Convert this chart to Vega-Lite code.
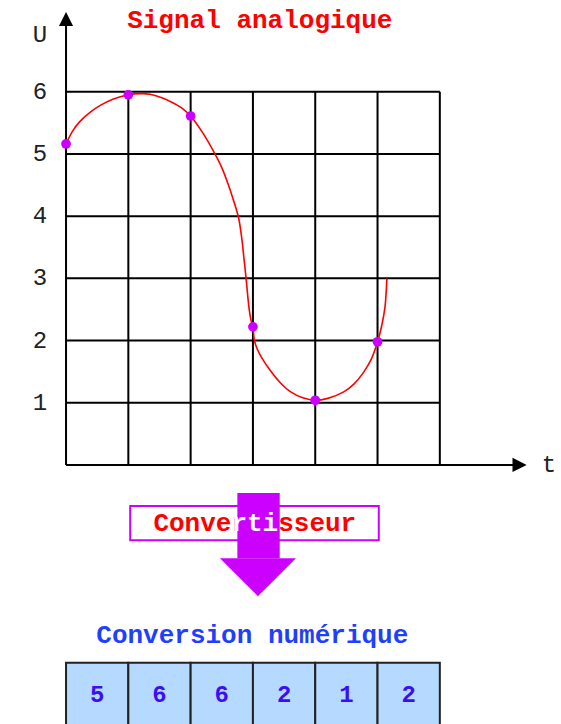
{
  "$schema": "https://vega.github.io/schema/vega-lite/v6.json",
  "width": 561,
  "height": 724,
  "autosize": {"type": "none"},
  "padding": 0,
  "background": "white",
  "config": {"view": {"stroke": null}},
  "datasets": {
    "grid": [
      {"t": 0, "u": 1, "t2": 6, "u2": 1},
      {"t": 0, "u": 2, "t2": 6, "u2": 2},
      {"t": 0, "u": 3, "t2": 6, "u2": 3},
      {"t": 0, "u": 4, "t2": 6, "u2": 4},
      {"t": 0, "u": 5, "t2": 6, "u2": 5},
      {"t": 0, "u": 6, "t2": 6, "u2": 6},
      {"t": 1, "u": 0, "t2": 1, "u2": 6},
      {"t": 2, "u": 0, "t2": 2, "u2": 6},
      {"t": 3, "u": 0, "t2": 3, "u2": 6},
      {"t": 4, "u": 0, "t2": 4, "u2": 6},
      {"t": 5, "u": 0, "t2": 5, "u2": 6},
      {"t": 6, "u": 0, "t2": 6, "u2": 6},
      {"t": 0, "u": 0, "t2": 0, "u2": 7.1},
      {"t": 0, "u": 0, "t2": 7.2, "u2": 0}
    ],
    "arrowUp": [{"t": 0, "u": 7.17}],
    "arrowRight": [{"t": 7.28, "u": 0}],
    "curve": [
      {"i": 0, "t": 0, "u": 5.16},
      {"i": 1, "t": 0.1, "u": 5.36},
      {"i": 2, "t": 0.22, "u": 5.52},
      {"i": 3, "t": 0.4, "u": 5.68},
      {"i": 4, "t": 0.55, "u": 5.78},
      {"i": 5, "t": 0.75, "u": 5.88},
      {"i": 6, "t": 1.0, "u": 5.95},
      {"i": 7, "t": 1.2, "u": 5.97},
      {"i": 8, "t": 1.35, "u": 5.96},
      {"i": 9, "t": 1.55, "u": 5.9},
      {"i": 10, "t": 1.72, "u": 5.82},
      {"i": 11, "t": 1.87, "u": 5.73},
      {"i": 12, "t": 2.0, "u": 5.61},
      {"i": 13, "t": 2.2, "u": 5.33},
      {"i": 14, "t": 2.39, "u": 5.0},
      {"i": 15, "t": 2.5, "u": 4.78},
      {"i": 16, "t": 2.6, "u": 4.52},
      {"i": 17, "t": 2.68, "u": 4.28},
      {"i": 18, "t": 2.77, "u": 3.97},
      {"i": 19, "t": 2.82, "u": 3.65},
      {"i": 20, "t": 2.855, "u": 3.33},
      {"i": 21, "t": 2.89, "u": 3.0},
      {"i": 22, "t": 2.94, "u": 2.5},
      {"i": 23, "t": 2.97, "u": 2.32},
      {"i": 24, "t": 3.0, "u": 2.22},
      {"i": 25, "t": 3.02, "u": 2.02},
      {"i": 26, "t": 3.07, "u": 1.86},
      {"i": 27, "t": 3.15, "u": 1.71},
      {"i": 28, "t": 3.27, "u": 1.53},
      {"i": 29, "t": 3.45, "u": 1.31},
      {"i": 30, "t": 3.6, "u": 1.18},
      {"i": 31, "t": 3.8, "u": 1.08},
      {"i": 32, "t": 4.0, "u": 1.04},
      {"i": 33, "t": 4.2, "u": 1.07},
      {"i": 34, "t": 4.45, "u": 1.17},
      {"i": 35, "t": 4.62, "u": 1.3},
      {"i": 36, "t": 4.77, "u": 1.48},
      {"i": 37, "t": 4.9, "u": 1.7},
      {"i": 38, "t": 5.0, "u": 1.98},
      {"i": 39, "t": 5.07, "u": 2.25},
      {"i": 40, "t": 5.12, "u": 2.54},
      {"i": 41, "t": 5.14, "u": 2.8},
      {"i": 42, "t": 5.15, "u": 3.0}
    ],
    "samples": [
      {"t": 0, "u": 5.16, "digit": "5"},
      {"t": 1, "u": 5.95, "digit": "6"},
      {"t": 2, "u": 5.61, "digit": "6"},
      {"t": 3, "u": 2.22, "digit": "2"},
      {"t": 4, "u": 1.04, "digit": "1"},
      {"t": 5, "u": 1.98, "digit": "2"}
    ],
    "ylabels": [
      {"t": -0.42, "u": 1, "label": "1"},
      {"t": -0.42, "u": 2, "label": "2"},
      {"t": -0.42, "u": 3, "label": "3"},
      {"t": -0.42, "u": 4, "label": "4"},
      {"t": -0.42, "u": 5, "label": "5"},
      {"t": -0.42, "u": 6, "label": "6"},
      {"t": -0.42, "u": 6.92, "label": "U"},
      {"t": 7.75, "u": 0, "label": "t"}
    ],
    "title": [{"t": 3.11, "u": 7.16, "label": "Signal analogique"}],
    "box": [{"t": 1.03, "u": -0.66, "t2": 5.02, "u2": -1.21}],
    "boxText": [{"t": 3.03, "u": -0.93, "label": "Convertisseur"}],
    "knockText": [{"t": 3.03, "u": -0.93, "label": "rti"}],
    "shaft": [{"t": 2.75, "u": -0.45, "t2": 3.43, "u2": -1.5}],
    "head": [
      {"t": 2.47, "u": -1.5, "u2": -1.5},
      {"t": 3.08, "u": -1.5, "u2": -2.11},
      {"t": 3.69, "u": -1.5, "u2": -1.5}
    ],
    "convTitle": [{"t": 2.99, "u": -2.73, "label": "Conversion numérique"}],
    "cells": [
      {"t": 0, "t2": 1, "u": -3.18, "u2": -4.4, "tc": 0.5, "uc": -3.7, "digit": "5"},
      {"t": 1, "t2": 2, "u": -3.18, "u2": -4.4, "tc": 1.5, "uc": -3.7, "digit": "6"},
      {"t": 2, "t2": 3, "u": -3.18, "u2": -4.4, "tc": 2.5, "uc": -3.7, "digit": "6"},
      {"t": 3, "t2": 4, "u": -3.18, "u2": -4.4, "tc": 3.5, "uc": -3.7, "digit": "2"},
      {"t": 4, "t2": 5, "u": -3.18, "u2": -4.4, "tc": 4.5, "uc": -3.7, "digit": "1"},
      {"t": 5, "t2": 6, "u": -3.18, "u2": -4.4, "tc": 5.5, "uc": -3.7, "digit": "2"}
    ]
  },
  "layer": [
    {
      "data": {"name": "grid"},
      "mark": {"type": "rule", "color": "#000000", "strokeWidth": 2},
      "encoding": {
        "x": {"field": "t", "type": "quantitative", "scale": {"domain": [-1.06, 7.945], "nice": false, "zero": false}, "axis": null},
        "y": {"field": "u", "type": "quantitative", "scale": {"domain": [-4.165, 7.475], "nice": false, "zero": false}, "axis": null},
        "x2": {"field": "t2"},
        "y2": {"field": "u2"}
      }
    },
    {
      "data": {"name": "arrowUp"},
      "mark": {"type": "point", "shape": "M-1,1L0,-1L1,1Z", "filled": true, "color": "#000000", "opacity": 1, "size": 200},
      "encoding": {
        "x": {"field": "t", "type": "quantitative", "scale": {"domain": [-1.06, 7.945], "nice": false, "zero": false}, "axis": null},
        "y": {"field": "u", "type": "quantitative", "scale": {"domain": [-4.165, 7.475], "nice": false, "zero": false}, "axis": null}
      }
    },
    {
      "data": {"name": "arrowRight"},
      "mark": {"type": "point", "shape": "M-1,-1L1,0L-1,1Z", "filled": true, "color": "#000000", "opacity": 1, "size": 200},
      "encoding": {
        "x": {"field": "t", "type": "quantitative", "scale": {"domain": [-1.06, 7.945], "nice": false, "zero": false}, "axis": null},
        "y": {"field": "u", "type": "quantitative", "scale": {"domain": [-4.165, 7.475], "nice": false, "zero": false}, "axis": null}
      }
    },
    {
      "data": {"name": "curve"},
      "mark": {"type": "line", "color": "#ff0000", "strokeWidth": 1.6, "interpolate": "catmull-rom"},
      "encoding": {
        "x": {"field": "t", "type": "quantitative", "scale": {"domain": [-1.06, 7.945], "nice": false, "zero": false}, "axis": null},
        "y": {"field": "u", "type": "quantitative", "scale": {"domain": [-4.165, 7.475], "nice": false, "zero": false}, "axis": null},
        "order": {"field": "i", "type": "quantitative"}
      }
    },
    {
      "data": {"name": "samples"},
      "mark": {"type": "circle", "color": "#cc00ff", "opacity": 1, "size": 95},
      "encoding": {
        "x": {"field": "t", "type": "quantitative", "scale": {"domain": [-1.06, 7.945], "nice": false, "zero": false}, "axis": null},
        "y": {"field": "u", "type": "quantitative", "scale": {"domain": [-4.165, 7.475], "nice": false, "zero": false}, "axis": null}
      }
    },
    {
      "data": {"name": "ylabels"},
      "mark": {"type": "text", "font": "Liberation Mono", "fontSize": 24, "color": "#222222", "align": "center", "baseline": "middle"},
      "encoding": {
        "x": {"field": "t", "type": "quantitative", "scale": {"domain": [-1.06, 7.945], "nice": false, "zero": false}, "axis": null},
        "y": {"field": "u", "type": "quantitative", "scale": {"domain": [-4.165, 7.475], "nice": false, "zero": false}, "axis": null},
        "text": {"field": "label"}
      }
    },
    {
      "data": {"name": "title"},
      "mark": {"type": "text", "font": "Liberation Mono", "fontSize": 26, "fontWeight": "bold", "color": "#ff0000", "align": "center", "baseline": "middle"},
      "encoding": {
        "x": {"field": "t", "type": "quantitative", "scale": {"domain": [-1.06, 7.945], "nice": false, "zero": false}, "axis": null},
        "y": {"field": "u", "type": "quantitative", "scale": {"domain": [-4.165, 7.475], "nice": false, "zero": false}, "axis": null},
        "text": {"field": "label"}
      }
    },
    {
      "data": {"name": "box"},
      "mark": {"type": "rect", "fill": "#ffffff", "stroke": "#cc00ff", "strokeWidth": 2},
      "encoding": {
        "x": {"field": "t", "type": "quantitative", "scale": {"domain": [-1.06, 7.945], "nice": false, "zero": false}, "axis": null},
        "y": {"field": "u", "type": "quantitative", "scale": {"domain": [-4.165, 7.475], "nice": false, "zero": false}, "axis": null},
        "x2": {"field": "t2"},
        "y2": {"field": "u2"}
      }
    },
    {
      "data": {"name": "boxText"},
      "mark": {"type": "text", "font": "Liberation Mono", "fontSize": 26, "fontWeight": "bold", "color": "#ff0000", "align": "center", "baseline": "middle"},
      "encoding": {
        "x": {"field": "t", "type": "quantitative", "scale": {"domain": [-1.06, 7.945], "nice": false, "zero": false}, "axis": null},
        "y": {"field": "u", "type": "quantitative", "scale": {"domain": [-4.165, 7.475], "nice": false, "zero": false}, "axis": null},
        "text": {"field": "label"}
      }
    },
    {
      "data": {"name": "shaft"},
      "mark": {"type": "rect", "color": "#cc00ff", "opacity": 1},
      "encoding": {
        "x": {"field": "t", "type": "quantitative", "scale": {"domain": [-1.06, 7.945], "nice": false, "zero": false}, "axis": null},
        "y": {"field": "u", "type": "quantitative", "scale": {"domain": [-4.165, 7.475], "nice": false, "zero": false}, "axis": null},
        "x2": {"field": "t2"},
        "y2": {"field": "u2"}
      }
    },
    {
      "data": {"name": "head"},
      "mark": {"type": "area", "color": "#cc00ff", "opacity": 1, "interpolate": "linear"},
      "encoding": {
        "x": {"field": "t", "type": "quantitative", "scale": {"domain": [-1.06, 7.945], "nice": false, "zero": false}, "axis": null},
        "y": {"field": "u", "type": "quantitative", "scale": {"domain": [-4.165, 7.475], "nice": false, "zero": false}, "axis": null},
        "y2": {"field": "u2"}
      }
    },
    {
      "data": {"name": "knockText"},
      "mark": {"type": "text", "font": "Liberation Mono", "fontSize": 26, "fontWeight": "bold", "color": "#ffffff", "align": "center", "baseline": "middle"},
      "encoding": {
        "x": {"field": "t", "type": "quantitative", "scale": {"domain": [-1.06, 7.945], "nice": false, "zero": false}, "axis": null},
        "y": {"field": "u", "type": "quantitative", "scale": {"domain": [-4.165, 7.475], "nice": false, "zero": false}, "axis": null},
        "text": {"field": "label"}
      }
    },
    {
      "data": {"name": "convTitle"},
      "mark": {"type": "text", "font": "Liberation Mono", "fontSize": 26, "fontWeight": "bold", "color": "#1f3fff", "align": "center", "baseline": "middle"},
      "encoding": {
        "x": {"field": "t", "type": "quantitative", "scale": {"domain": [-1.06, 7.945], "nice": false, "zero": false}, "axis": null},
        "y": {"field": "u", "type": "quantitative", "scale": {"domain": [-4.165, 7.475], "nice": false, "zero": false}, "axis": null},
        "text": {"field": "label"}
      }
    },
    {
      "data": {"name": "cells"},
      "mark": {"type": "rect", "fill": "#b5d9ff", "stroke": "#222222", "strokeWidth": 2},
      "encoding": {
        "x": {"field": "t", "type": "quantitative", "scale": {"domain": [-1.06, 7.945], "nice": false, "zero": false}, "axis": null},
        "y": {"field": "u", "type": "quantitative", "scale": {"domain": [-4.165, 7.475], "nice": false, "zero": false}, "axis": null},
        "x2": {"field": "t2"},
        "y2": {"field": "u2"}
      }
    },
    {
      "data": {"name": "cells"},
      "mark": {"type": "text", "font": "Liberation Mono", "fontSize": 24, "fontWeight": "bold", "color": "#3a10f0", "align": "center", "baseline": "middle"},
      "encoding": {
        "x": {"field": "tc", "type": "quantitative", "scale": {"domain": [-1.06, 7.945], "nice": false, "zero": false}, "axis": null},
        "y": {"field": "uc", "type": "quantitative", "scale": {"domain": [-4.165, 7.475], "nice": false, "zero": false}, "axis": null},
        "text": {"field": "digit"}
      }
    }
  ]
}
